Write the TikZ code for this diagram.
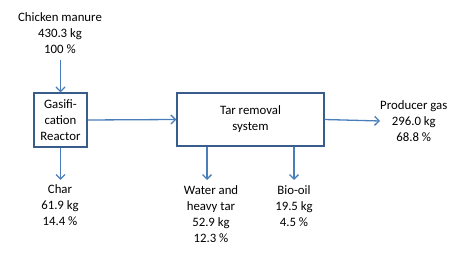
\documentclass[tikz,border=0pt]{standalone}
\usepackage{fontspec}
\setmainfont{Carlito}
\usetikzlibrary{arrows.meta}
\definecolor{boxc}{HTML}{385D8A}
\definecolor{arrc}{HTML}{4A7EBB}
\begin{document}
\begin{tikzpicture}[x=1pt,y=-1pt,
  lbl/.style={align=center,font=\fontsize{12.8}{16}\selectfont,inner sep=0pt},
  proc/.style={draw=boxc,line width=1.3pt,align=center,font=\fontsize{12.8}{16}\selectfont,inner sep=0pt},
  flow/.style={draw=arrc,line width=1.3pt,-{Straight Barb[length=4.5pt,width=9pt]}}]
\useasboundingbox (0,0) rectangle (476,256);
\node[proc,minimum width=53pt,minimum height=54pt] (gas) at (60.5,120) {Gasifi-\\cation\\Reactor};
\node[proc,minimum width=147pt,minimum height=53pt] (tar) at (250.5,119.5) {Tar removal\\system};
\node[lbl] (feed) at (60,33) {Chicken manure\\430.3 kg\\100 \%};
\coordinate (feedend) at (60.5,60);
\coordinate (charend) at (60.5,180);
\coordinate (waterend) at (207,180);
\coordinate (oilend) at (294,180);
\node[lbl,anchor=north] (char) at (60,184) {Char\\61.9 kg\\14.4 \%};
\node[lbl,anchor=north] (water) at (211,185) {Water and\\heavy tar\\52.9 kg\\12.3 \%};
\node[lbl,anchor=north] (oil) at (294,185) {Bio-oil\\19.5 kg\\4.5 \%};
\node[lbl,anchor=west] (gasout) at (380,121) {Producer gas\\296.0 kg\\68.8 \%};
\draw[flow] (feedend) -- (gas.north);
\draw[flow] (gas.east) -- (tar.west);
\draw[flow] (tar.east) -- (gasout.west);
\draw[flow] (gas.south) -- (charend);
\draw[flow] (tar.south -| waterend) -- (waterend);
\draw[flow] (tar.south -| oilend) -- (oilend);
\end{tikzpicture}
\end{document}
